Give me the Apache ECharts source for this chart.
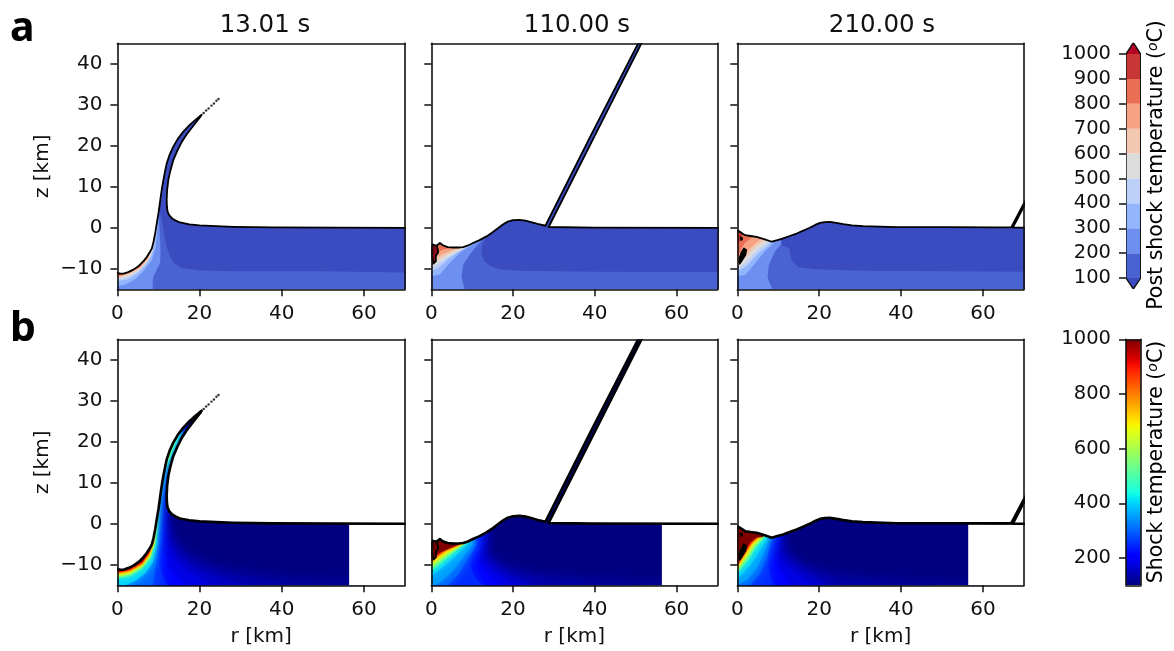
<!DOCTYPE html>
<html><head><meta charset="utf-8">
<style>html,body{margin:0;padding:0;background:#fff}#c{width:1174px;height:651px}</style>
<script src="https://cdn.jsdelivr.net/npm/echarts@6/dist/echarts.min.js"></script></head>
<body><div id="c"></div>
<script>
// ---------- values: [r km, z km] ----------
const panelTitles = ['13.01 s', '110.00 s', '210.00 s'];
const rTicks = [0, 20, 40, 60];
const zTicks = [-10, 0, 10, 20, 30, 40];
const postShockLevels = [100, 200, 300, 400, 500, 600, 700, 800, 900, 1000];
const shockTicks = [200, 400, 600, 800, 1000];

const surface13s = [[-1,-10.9],[0,-11],[0.7,-11.2],[1.5,-11.2],[2.6,-10.8],[3.9,-10.2],[5.2,-9.3],[6.3,-8.2],[7.1,-7.2],[7.8,-6.1],[8.4,-5],[8.8,-3.4],[9.2,-1.3],[9.6,1.2],[10,3.6],[10.3,5.8],[10.6,8],[10.9,10],[11.2,11.7],[11.6,13.8],[12,15.7],[12.7,17.8],[13.6,19.8],[14.7,21.7],[16,23.4],[17.2,24.7],[18.5,25.9],[20.5,27.6],[20.3,27.2],[19.2,25.8],[18.1,24.4],[16.8,22.7],[15.7,21],[14.6,18.8],[13.6,16.5],[12.9,14],[12.4,11.7],[12.1,9.2],[12,6.8],[12.05,5.2],[12.2,4],[12.6,3.1],[13.2,2.4],[14.1,1.8],[15.2,1.3],[17.5,0.85],[20,0.6],[24,0.4],[28.2,0.25],[38,0.1],[72,0]];
const surface110s = [[-1,-5],[0,-4.9],[0.9,-4.4],[1.5,-4.2],[2.1,-3.7],[2.9,-4.3],[4,-4.7],[5.4,-4.8],[6.6,-4.8],[7.8,-4.7],[9,-4.3],[10.2,-3.7],[11.8,-3],[13.5,-2.1],[15,-1.1],[16.3,-0.1],[17.5,0.8],[18.7,1.5],[20,1.85],[21.6,1.95],[23,1.75],[24.4,1.4],[26,0.95],[27.9,0.5],[39,22.5],[50.6,45],[52,48],[52.9,48],[51.4,45],[40,22.5],[28.7,0.2],[40,0.05],[72,0]];
const surface210s = [[-1,-0.5],[0,-0.6],[0.7,-1],[1.9,-1.8],[3.2,-2],[4.7,-2.2],[5.7,-2.5],[6.7,-2.8],[8.4,-3.4],[9.8,-3],[11.2,-2.6],[12.8,-2],[14.5,-1.4],[16.1,-0.7],[17.7,0],[19,0.7],[20.2,1.2],[21.4,1.4],[22.6,1.45],[24.2,1.2],[25.9,0.9],[28,0.6],[30.7,0.4],[38.9,0.15],[51,0.15],[63.2,0.1],[66.9,0.1],[71.5,8.8],[71.8,8.7],[67.3,0.05],[72,0]];
const tipDots = [[21,28],[21.6,28.6],[22.2,29.1],[22.9,29.8],[23.5,30.3],[24.1,31],[24.6,31.4]];
const blob110s = [[0.3,-4],[1.4,-4.5],[1.7,-6],[1.1,-6.8],[1.1,-8.2],[0.5,-8.7],[0.2,-7]];
const blob210s = [[1.6,-5],[2.2,-5.4],[2,-6.6],[1,-8.2],[0.6,-8.8],[0.5,-7.4],[1,-6]];
const speck210s = [[0.7,-2.2],[1.3,-2.4],[1.2,-3],[0.8,-3.1]];

// post-shock temperature bands: [lower bound of band °C, polygon]
const postShock13s = [
 [100,[[72,-16],[70,-10.9],[49.3,-10.6],[28,-10.6],[20,-10.4],[15.6,-9.8],[13.8,-8.6],[12.8,-7],[12.1,-5],[11.6,-2.9],[11.2,-0.5],[10.8,2],[10.2,4.4]]],
 [200,[[8.6,-16],[8.6,-15],[8.6,-13],[8.8,-11.8],[9.7,-10],[10.4,-8.6],[10.5,-6],[10.4,-2.9],[10.1,2.8]]],
 [300,[[0,-14.2],[2,-13.8],[4.5,-12.4],[6.5,-10.4],[8.3,-8],[9.3,-5],[9.6,-2],[9.9,2]]],
 [400,[[0,-13],[2.5,-12.6],[5,-11],[7,-9],[8.4,-6.6],[9.1,-3.6],[9.5,0]]],
 [500,[[0,-12.6],[3,-11.8],[5.5,-10.2],[7.4,-8.1],[8.6,-5.4],[9.1,-2.5]]],
 [600,[[0,-12.3],[3,-11.4],[5.6,-9.9],[7.5,-7.7],[8.6,-5],[9.2,-1.6]]],
 [700,[[0,-12],[3,-11.1],[5.6,-9.6],[7.5,-7.3],[8.6,-4.6],[9.1,-2]]],
 [800,[[0,-11.8],[3,-10.9],[5.6,-9.4],[7.4,-7.1],[8.5,-4.5]]],
 [900,[[0,-11.6],[2,-11.2],[5.5,-9.3],[7,-7.4]]]
];
const postShock110s = [
 [100,[[72,-16],[70,-10.8],[40,-10.7],[21.6,-10.5],[16.7,-10.1],[14.4,-9.3],[13,-8.2],[12.3,-6.6],[12.5,-4.1],[13.5,-2]]],
 [200,[[8.2,-16],[8.2,-15],[7.6,-13],[7.4,-11.8],[7.8,-9],[9.4,-6.6],[11,-4.5],[12.2,-3.3]]],
 [300,[[0,-11.8],[2.1,-11.4],[4.5,-8.6],[7.4,-5.8],[10.2,-4.1]]],
 [400,[[0,-10.6],[1.7,-9.8],[4.1,-7.7],[6.6,-5.9],[9.6,-4.1]]],
 [500,[[0,-9.8],[2.1,-8.4],[4.5,-6.9],[7.4,-5.4],[9.4,-4]]],
 [600,[[0,-9],[2.1,-7.6],[4.5,-6.2],[6.6,-5.3],[8.6,-4.2]]],
 [700,[[0,-8.4],[1.7,-7],[3.7,-6],[5.8,-5.2],[7.5,-4.5]]],
 [800,[[0,-7.8],[1.3,-6],[2.9,-5.3],[4.5,-5],[5.8,-4.3]]],
 [900,[[0,-5.6],[0.9,-5],[1.5,-3.5]]]
];
const postShock210s = [
 [100,[[72,-16],[70,-10.7],[30.7,-10.5],[19.3,-10.1],[14.9,-9.6],[13.8,-8.6],[13.1,-7.5],[12.7,-5],[10.8,-4.2],[10.8,-2]]],
 [200,[[8.6,-16],[8.6,-15],[7.7,-13],[7.4,-11.9],[7.7,-9.1],[9.2,-5.8],[10.8,-3.8]]],
 [300,[[0,-11.8],[1.9,-11.5],[4.3,-8.7],[6.7,-5.8],[8.8,-3.8]]],
 [400,[[0,-10.7],[2.4,-9.2],[5,-6.3],[7.2,-4.6],[8.5,-3.4]]],
 [500,[[0,-10],[2.3,-8.2],[4.7,-5.6],[6.6,-4.2],[8,-3.1]]],
 [600,[[0,-9.5],[2,-7.3],[4.2,-5],[6,-3.6],[7.3,-2.8]]],
 [700,[[0,-9],[1.5,-7],[3.5,-4.7],[5.5,-3],[6.5,-2.5]]],
 [800,[[0,-7.5],[1,-5],[2,-3.5],[3.5,-2.4],[4.2,-1.8]]],
 [900,[[0,-4.5],[0.8,-2.5],[1.5,-1.5]]]
];

// shock temperature isotherms: [°C, polygon]
const shock13s = [
 [110,[[60,-16],[60,-13.4],[40,-12.5],[25,-10.2],[17,-6.5],[13,-2],[12,2],[12.2,6],[13,12],[15,17],[17,21]]],
 [125,[[58,-16],[58,-15.2],[40,-14.2],[25,-11.6],[17,-8],[13,-3.5],[11.5,1],[11.5,6],[12.5,12],[14.5,17],[17,21.5]]],
 [150,[[42,-16],[30,-14.5],[20,-11.5],[14.5,-7.5],[12,-3],[11,2],[11.2,7],[12.2,12],[14.2,17],[16.8,21.8]]],
 [175,[[28,-16],[22,-14.5],[16.5,-11],[13,-7.5],[11.2,-3],[10.6,2],[11,7],[12,12],[14,17],[16.5,22]]],
 [200,[[20,-16],[16,-14.5],[12.5,-11],[11,-7],[10.4,-2],[10.4,3],[10.8,7],[11.8,12],[13.8,17],[16.3,22.2]]],
 [250,[[13,-16],[11.5,-14],[10.3,-10.5],[10,-6],[10.1,-2],[10.2,2],[10.6,7],[11.6,12],[13.6,17],[16,22.4]]],
 [300,[[8.5,-16],[8.8,-13.5],[9.3,-10],[9.7,-6],[9.9,-2],[10.1,2],[10.5,7],[11.5,12],[13.4,17],[15.8,22.5]]],
 [400,[[1,-16],[2,-15],[4.5,-13.8],[6.8,-12],[8.6,-9.3],[9.5,-5],[9.8,0],[10.2,6],[11.3,12],[13.1,17],[15.6,22.6]]],
 [500,[[0,-13.4],[3,-12.8],[6,-11],[8,-8.6],[9.1,-5],[9.5,-1],[10,6],[11.1,12],[13,17],[15.4,22.8]]],
 [600,[[0,-12.9],[3,-12.3],[6,-10.5],[8,-8],[9,-4.7],[9.4,-1],[9.8,5],[10.9,12],[12.8,17]]],
 [700,[[0,-12.5],[3,-11.9],[6,-10.1],[7.9,-7.6],[8.9,-4.5],[9.3,-1],[9.7,5]]],
 [800,[[0,-12.1],[3,-11.5],[6,-9.8],[7.8,-7.3],[8.8,-4.2],[9.2,-1]]],
 [900,[[0,-11.8],[3,-11.2],[6,-9.5],[7.7,-7],[8.7,-4]]],
 [1000,[[0,-11.5],[3,-10.9],[6,-9.2],[7.6,-6.8],[8.6,-3.8]]]
];
const shock110s = [
 [110,[[60,-16],[60,-14],[40,-13],[28,-12],[20,-10.5],[15,-8.1],[13,-4.9],[13.9,-1.6]]],
 [125,[[58,-16],[58,-15.5],[40,-14.5],[27,-13],[19,-11.2],[14.5,-8.5],[12.7,-5],[13.5,-2]]],
 [150,[[35,-16],[25.2,-15],[18.3,-12.2],[13.5,-8.9],[12.2,-4.9],[13,-2.4]]],
 [175,[[28,-16],[20,-14.5],[15,-11.5],[12,-8.5],[11.8,-5.2],[12.7,-2.8]]],
 [200,[[20,-16],[17,-15],[13.5,-12.2],[11,-8.9],[11.4,-5.7],[12.2,-3.6]]],
 [250,[[14,-16],[11,-13.5],[9.5,-10.5],[9.8,-7.5],[11.2,-5.2],[12,-3]]],
 [300,[[3.5,-16],[4.1,-15],[7,-11.8],[9.4,-7.7],[11,-4.9]]],
 [350,[[0,-15.5],[2.5,-14],[5.5,-11.2],[8.4,-7.4],[10.2,-4.9]]],
 [400,[[0,-12.8],[3.5,-9.9],[6.8,-7],[9.2,-4.6]]],
 [500,[[0,-11.5],[3.5,-8.7],[6.5,-6.2],[8.8,-4.3]]],
 [600,[[0,-10.6],[3.7,-7.8],[7,-5.5],[8.4,-4.3]]],
 [700,[[0,-9.7],[4.1,-6.9],[7.8,-4.9],[9,-3.5]]],
 [800,[[0,-9.2],[3.5,-6.6],[6.5,-5.3],[8,-4.2]]],
 [900,[[0,-8.8],[3,-6.4],[6,-5.1],[7.5,-4.1]]],
 [1000,[[0,-8.3],[2.1,-7],[4.5,-5.9],[7,-4.9],[8,-4]]]
];
const shock210s = [
 [110,[[60,-16],[60,-14.3],[38,-13.2],[26.7,-12.2],[17.7,-10.2],[13.7,-8.2],[11.2,-5.4],[12,-2.9]]],
 [125,[[55,-16],[55,-15.5],[38,-14.6],[25,-13.2],[17,-11],[13,-8.5],[10.8,-5.6],[11.4,-3]]],
 [150,[[30,-16],[22.6,-15],[16.5,-11.8],[12,-8.6],[10,-5.8],[10.4,-3.5]]],
 [175,[[24,-16],[18,-14.5],[13,-11.2],[9.9,-8],[9.2,-5.5],[10,-3.2]]],
 [200,[[16,-16],[12.8,-15],[10.4,-11.4],[8.4,-7.8],[8.4,-5],[9.6,-3.3]]],
 [250,[[10,-16],[8.5,-14],[7.6,-11],[7.6,-8],[8,-5],[9.2,-3.3]]],
 [300,[[2.5,-16],[3.1,-15],[5.5,-12.2],[7.2,-8.2],[8,-4.5],[8.8,-3.2]]],
 [350,[[0,-15],[2.5,-13.5],[4.8,-10.8],[6.6,-7],[7.6,-3.8]]],
 [400,[[0,-13.6],[3,-10.2],[5.2,-7],[7,-4],[7.8,-3]]],
 [500,[[0,-12.2],[2.8,-8.6],[4.6,-5.7],[6.6,-3.4]]],
 [600,[[0,-11.4],[2.6,-8],[4.3,-5.3],[6.3,-3.3]]],
 [700,[[0,-10.8],[2.3,-7.4],[3.9,-4.9],[5.9,-3.1]]],
 [800,[[0,-10.4],[2,-7.2],[3.6,-4.7],[5.5,-3]]],
 [900,[[0,-10],[1.8,-7],[3.3,-4.6],[5.1,-2.9]]],
 [1000,[[0,-9.6],[1.5,-7],[3.1,-4.5],[4.7,-3.3],[6.3,-3.2]]]
];
const shockFieldEnd = 56.4;

// ---------- styles ----------
const FONT = 'DejaVu Sans';
const INK = '#111';
const postShockColors = ['#4a63d2','#6c8ff0','#93b5fe','#bcd0f8','#dcdcdc','#f3c8b2','#f6a283','#e96e54','#c83636'];
const underColor = '#3b4cc0', overColor = '#b40426';
const jetR = [[0,0],[.35,0],[.66,1],[.89,1],[1,.5]];
const jetG = [[0,0],[.125,0],[.375,1],[.64,1],[.91,0],[1,0]];
const jetB = [[0,.5],[.11,1],[.34,1],[.65,0],[1,0]];
function ch(t, f){ for(let i=1;i<t.length;i++){ if(f<=t[i][0]){ const a=t[i-1],b=t[i]; return a[1]+(b[1]-a[1])*(f-a[0])/(b[0]-a[0]); } } return t[t.length-1][1]; }
function jet(f){ return 'rgb('+[jetR,jetG,jetB].map(t=>Math.round(255*ch(t,f))).join(',')+')'; }
const jetT = T => jet((T-100)/900);
const AIR_CLOSE = [[0,30],[0,-16]];

const colLeft = [117.4, 431.3, 737.3];
const colWidth = [287.6, 286.2, 286.6];
const rowTop = [43.3, 339.3];
const panelH = 246;

const grids=[], xAxes=[], yAxes=[], series=[];
function polySeries(gridIndex, items){
  series.push({
    type:'custom', coordinateSystem:'cartesian2d', xAxisIndex:gridIndex*2, yAxisIndex:gridIndex*2,
    clip:true, silent:true, z:1, animation:false,
    data:items.map((_,i)=>[i]), dimensions:['i'], encode:{},
    renderItem(params, api){
      const it = items[api.value(0)];
      const pts = it.pts.map(p=>api.coord(p));
      if(it.rect){
        return {type:'rect',shape:{x:pts[0][0],y:pts[0][1],width:pts[1][0]-pts[0][0],height:pts[1][1]-pts[0][1]},style:{fill:it.fill}};
      }
      if(it.line){
        return {type:'polyline',shape:{points:pts},style:{fill:null,stroke:it.stroke,lineWidth:it.lw,lineJoin:'round',lineCap:'round'}};
      }
      const st={fill:it.fill,stroke:it.stroke||null,lineWidth:it.lw||0,lineJoin:'round'};
      if(it.blur){st.shadowBlur=it.blur;st.shadowColor=it.fill;}
      return {type:'polygon',shape:{points:pts},style:st};
    }
  });
}
function addGrid(left,top,width,height,xCfg,yCfg){
  const g=grids.length;
  grids.push({left,top,width,height,containLabel:false,show:false});
  const edge={show:true,onZero:false,lineStyle:{color:INK,width:1.6}};
  xAxes.push(Object.assign({gridIndex:g,type:'value',position:'bottom',z:5,splitLine:{show:false},axisLine:edge},xCfg));
  xAxes.push({gridIndex:g,type:'value',position:'top',min:xCfg.min,max:xCfg.max,z:5,splitLine:{show:false},axisTick:{show:false},axisLabel:{show:false},axisLine:edge,silent:true});
  yAxes.push(Object.assign({gridIndex:g,type:'value',position:'left',z:5,splitLine:{show:false},axisLine:edge},yCfg));
  yAxes.push({gridIndex:g,type:'value',position:'right',min:yCfg.min,max:yCfg.max,z:5,splitLine:{show:false},axisTick:{show:false},axisLabel:{show:false},axisLine:edge,silent:true});
  return g;
}
const tickStyle={show:true,length:7,inside:false,lineStyle:{color:INK,width:1.5}};
function panel(row,col,surface,layers,dots){
  const g=addGrid(colLeft[col],rowTop[row],colWidth[col],panelH,
   {min:0,max:70,
    axisTick:Object.assign({},tickStyle,{customValues:rTicks}),
    axisLabel:{customValues:rTicks,margin:14,fontFamily:FONT,fontSize:20,color:INK},
    name:row===1?'r [km]':'',nameLocation:'middle',nameGap:41,nameTextStyle:{fontFamily:FONT,fontSize:20,color:INK}},
   {min:-15,max:45,
    axisTick:Object.assign({},tickStyle,{customValues:zTicks}),
    axisLabel:{show:col===0,customValues:zTicks,margin:15,fontFamily:FONT,fontSize:20,color:INK,formatter:v=>String(v).replace('-','\u2212')},
    name:col===0?'z [km]':'',nameLocation:'middle',nameGap:65,nameTextStyle:{fontFamily:FONT,fontSize:20,color:INK}});
  const body=surface.concat([[72,-16],[-1,-16]]);
  const mask=surface.concat([[72,70],[-1,70]]);
  const items=[{pts:body,fill:row===0?underColor:jetT(100)}];
  layers.forEach(([t,p])=>{
    if(row===0){ items.push({pts:p.concat(AIR_CLOSE),fill:postShockColors[postShockLevels.indexOf(t)]}); }
    else { items.push({pts:p.concat(AIR_CLOSE),fill:jetT(t),blur:t<350?13:(t<=400?9:(t<600?6:2))}); }
  });
  items.push({pts:mask,fill:'#fff'});
  if(row===1) items.push({pts:[[shockFieldEnd,0.02],[72,-16]],fill:'#fff',rect:true});
  items.push({pts:surface,line:true,stroke:'#000',lw:row===0?1.8:2.6});
  if(row===1) items.push({pts:[[shockFieldEnd,0],[72,0]],line:true,stroke:'#000',lw:1.6});
  if(col===1) items.push({pts:blob110s,fill:row===0?'#8c0a1c':'#6e0000',stroke:'#000',lw:1.8});
  if(col===2){ items.push({pts:blob210s,fill:'#000',stroke:'#000',lw:1.5}); items.push({pts:speck210s,fill:'#000',stroke:'#000',lw:.8}); }
  polySeries(g,items);
  if(dots) series.push({type:'scatter',xAxisIndex:g*2,yAxisIndex:g*2,data:dots,symbolSize:2.4,itemStyle:{color:'#000'},silent:true,z:2,animation:false});
}
panel(0,0,surface13s,postShock13s,tipDots);
panel(0,1,surface110s,postShock110s);
panel(0,2,surface210s,postShock210s);
panel(1,0,surface13s,shock13s,tipDots);
panel(1,1,surface110s,shock110s);
panel(1,2,surface210s,shock210s);

// colour bars
const cbLabel={margin:15,fontFamily:FONT,fontSize:19.5,color:INK,formatter:v=>String(v)};
const cbA=addGrid(1126,42.7,14.7,246.3,{min:0,max:1,axisTick:{show:false},axisLabel:{show:false},axisLine:{show:false}},
  {min:56,max:1045.4,axisLine:{show:false},axisTick:Object.assign({},tickStyle,{customValues:postShockLevels}),axisLabel:Object.assign({},cbLabel,{customValues:postShockLevels})});
xAxes[cbA*2+1].axisLine={show:false}; yAxes[cbA*2+1].axisLine={show:false};
const cbItems=[];
postShockColors.forEach((c,i)=>cbItems.push({pts:[[0,postShockLevels[i+1]],[1,postShockLevels[i]]],fill:c,rect:true}));
cbItems.push({pts:[[0,1000],[1,1000],[0.5,1045.4]],fill:overColor});
cbItems.push({pts:[[0,100],[1,100],[0.5,56]],fill:underColor});
cbItems.push({pts:[[0,100],[0.5,56],[1,100],[1,1000],[0.5,1045.4],[0,1000],[0,100]],line:true,stroke:INK,lw:1.4});
polySeries(cbA,cbItems);

const cbB=addGrid(1126,339.3,14.7,246,{min:0,max:1,axisTick:{show:false},axisLabel:{show:false}},
  {min:100,max:1000,axisTick:Object.assign({},tickStyle,{customValues:shockTicks}),axisLabel:Object.assign({},cbLabel,{customValues:shockTicks})});
const stops=[]; for(let i=0;i<=40;i++) stops.push({offset:i/40,color:jet(1-i/40)});
const jetGrad=new echarts.graphic.LinearGradient(0,0,0,1,stops);
polySeries(cbB,[{pts:[[0,1000],[1,100]],fill:jetGrad,rect:true}]);

const unitRich={a:{fontFamily:FONT,fontSize:20.5,color:INK},s:{fontFamily:FONT,fontSize:14,fontStyle:'italic',color:INK,padding:[0,0,8,0]},i:{fontFamily:FONT,fontSize:20.5,color:INK}};
function vText(txt,x,y){return {type:'text',x,y,rotation:Math.PI/2,style:{text:'{a|'+txt+' (}{s|o}{i|C}{a|)}',rich:unitRich,textAlign:'center',textVerticalAlign:'middle'},silent:true,z:10};}

const titles=[];
[260,572,877].forEach((x,i)=>titles.push({text:panelTitles[i],left:x,top:8,textAlign:'center',textStyle:{fontFamily:FONT,fontSize:24.5,fontWeight:'normal',color:INK}}));
titles.push({text:'a',left:5,top:4,textStyle:{fontFamily:'Noto Sans',fontSize:41,fontWeight:'bold',color:'#000'}});
titles.push({text:'b',left:5,top:304,textStyle:{fontFamily:'Noto Sans',fontSize:41,fontWeight:'bold',color:'#000'}});

const chart=echarts.init(document.getElementById('c'),null,{renderer:'canvas',width:1174,height:651});
chart.setOption({animation:false,backgroundColor:'#fff',title:titles,grid:grids,xAxis:xAxes,yAxis:yAxes,series,
  graphic:[vText('Post shock temperature',1157,165),vText('Shock temperature',1157,462)]});
</script></body></html>
